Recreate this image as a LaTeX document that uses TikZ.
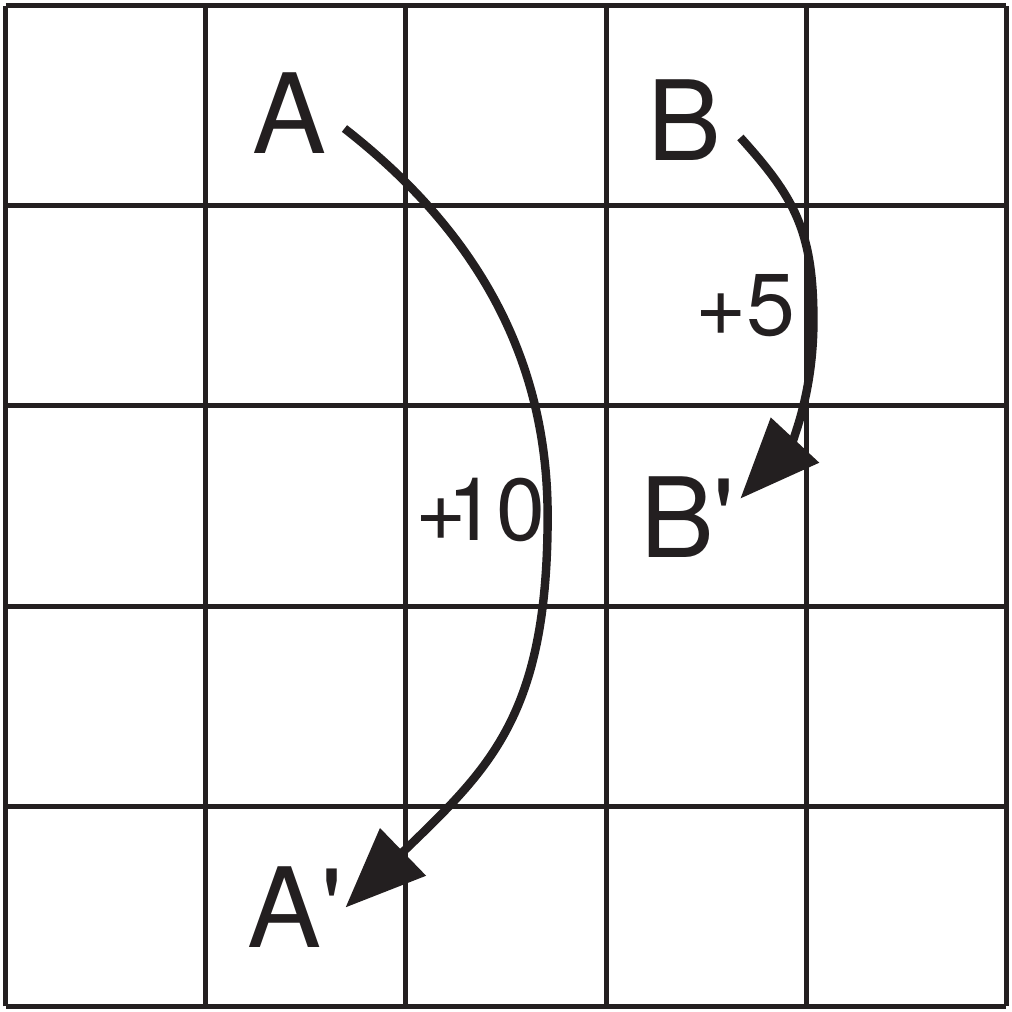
\documentclass[tikz,border=0pt]{standalone}
\usepackage{fontspec}
\setmainfont{TeX Gyre Heros}[Ligatures=TeXOff]
\usepackage{xcolor}
\usetikzlibrary{arrows.meta}
\definecolor{InkBlack}{RGB}{35,31,32}
\newcommand{\prm}{{\char"27}}
\tikzset{
  %% grid lines
  gridline/.style = {line width = 1.45pt, color = InkBlack},
  %% point labels and shift labels
  ptlabel/.style  = {anchor = base, inner sep = 0pt, text = InkBlack,
                     font = \fontsize{31.5}{36}\selectfont},
  shiftlbl/.style = {anchor = base, inner sep = 0pt, text = InkBlack,
                     font = \fontsize{25}{30}\selectfont},
  %% curved moves
  move/.style = {-{Triangle[length = 8mm, width = 6.4mm]},
                 line width = 2.4pt, color = InkBlack},
}
\begin{document}
\begin{tikzpicture}[x = 2cm, y = 2cm]
  \useasboundingbox (-0.028,-0.028) rectangle (5.028,5.028);

  %% 5 x 5 board
  \draw[gridline, step = 2cm] (0,0) grid (5,5);

  %% labels
  \node[ptlabel]  (A)   at (1.419,4.261) {A};
  \node[ptlabel]  (B)   at (3.392,4.226) {B};
  \node[ptlabel]  (Ap)  at (1.444,0.295) {A\prm};
  \node[ptlabel]  (Bp)  at (3.407,2.243) {B\prm};
  \node[shiftlbl] (s10) at (2.373,2.328) {+\kern-0.22em10};
  \node[shiftlbl] (s5)  at (3.696,3.352) {+5};

  %% arc end points next to the labels
  \coordinate (A-out) at (1.693,4.386);
  \coordinate (A-mid) at (2.708,2.450);
  \coordinate (A-in)  at (1.698,0.494);
  \coordinate (B-out) at (3.671,4.341);
  \coordinate (B-mid) at (4.036,3.427);
  \coordinate (B-in)  at (3.671,2.537);

  %% moves
  \draw[move] (A-out) .. controls (2.245,3.955) and (2.708,3.350) .. (A-mid)
                      .. controls (2.708,1.450) and (2.417,1.189) .. (A-in);
  \draw[move] (B-out) .. controls (3.939,4.044) and (4.036,3.877) .. (B-mid)
                      .. controls (4.036,3.027) and (3.910,2.793) .. (B-in);

\end{tikzpicture}
\end{document}
